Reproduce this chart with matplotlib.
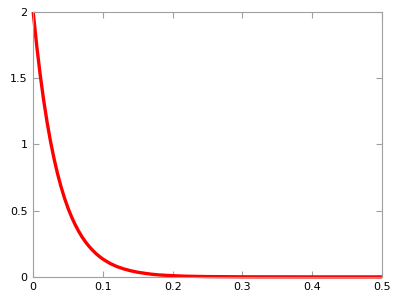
import matplotlib
matplotlib.use("Agg")
import matplotlib.pyplot as plt

# values
x_vals = [0.0, 0.005, 0.01, 0.015, 0.02, 0.025, 0.03, 0.035, 0.04, 0.045,
          0.05, 0.055, 0.06, 0.065, 0.07, 0.075, 0.08, 0.085, 0.09, 0.095,
          0.10, 0.11, 0.12, 0.13, 0.14, 0.15, 0.16, 0.17, 0.18, 0.19,
          0.20, 0.22, 0.25, 0.30, 0.40, 0.50]
y_vals = [2.0, 1.747, 1.527, 1.334, 1.165, 1.018, 0.890, 0.777, 0.679, 0.593,
          0.518, 0.453, 0.396, 0.346, 0.302, 0.264, 0.231, 0.202, 0.176, 0.154,
          0.134, 0.102, 0.078, 0.060, 0.046, 0.035, 0.027, 0.020, 0.015, 0.012,
          0.009, 0.005, 0.0023, 0.0006, 0.0, 0.0]

x_ticks = [0, 0.1, 0.2, 0.3, 0.4, 0.5]
x_labels = ["0", "0.1", "0.2", "0.3", "0.4", "0.5"]
y_ticks = [0, 0.5, 1, 1.5, 2]
y_labels = ["0", "0.5", "1", "1.5", "2"]

fig = plt.figure(figsize=(4, 3), dpi=100)
ax = fig.add_axes([0.083, 0.077, 0.872, 0.883])

ax.plot(x_vals, y_vals, color="#ff0000", linewidth=2.4, clip_on=False,
        solid_capstyle="butt", solid_joinstyle="round")

ax.set_xlim(0, 0.5)
ax.set_ylim(0, 2)
ax.set_xticks(x_ticks)
ax.set_xticklabels(x_labels)
ax.set_yticks(y_ticks)
ax.set_yticklabels(y_labels)

for s in ax.spines.values():
    s.set_color("#a0a0a0")
    s.set_linewidth(0.8)
ax.tick_params(direction="in", length=4, width=0.8, color="#a0a0a0",
               labelsize=8, labelcolor="black", top=True, right=True, pad=4)

fig.savefig("out.png", dpi=100)
